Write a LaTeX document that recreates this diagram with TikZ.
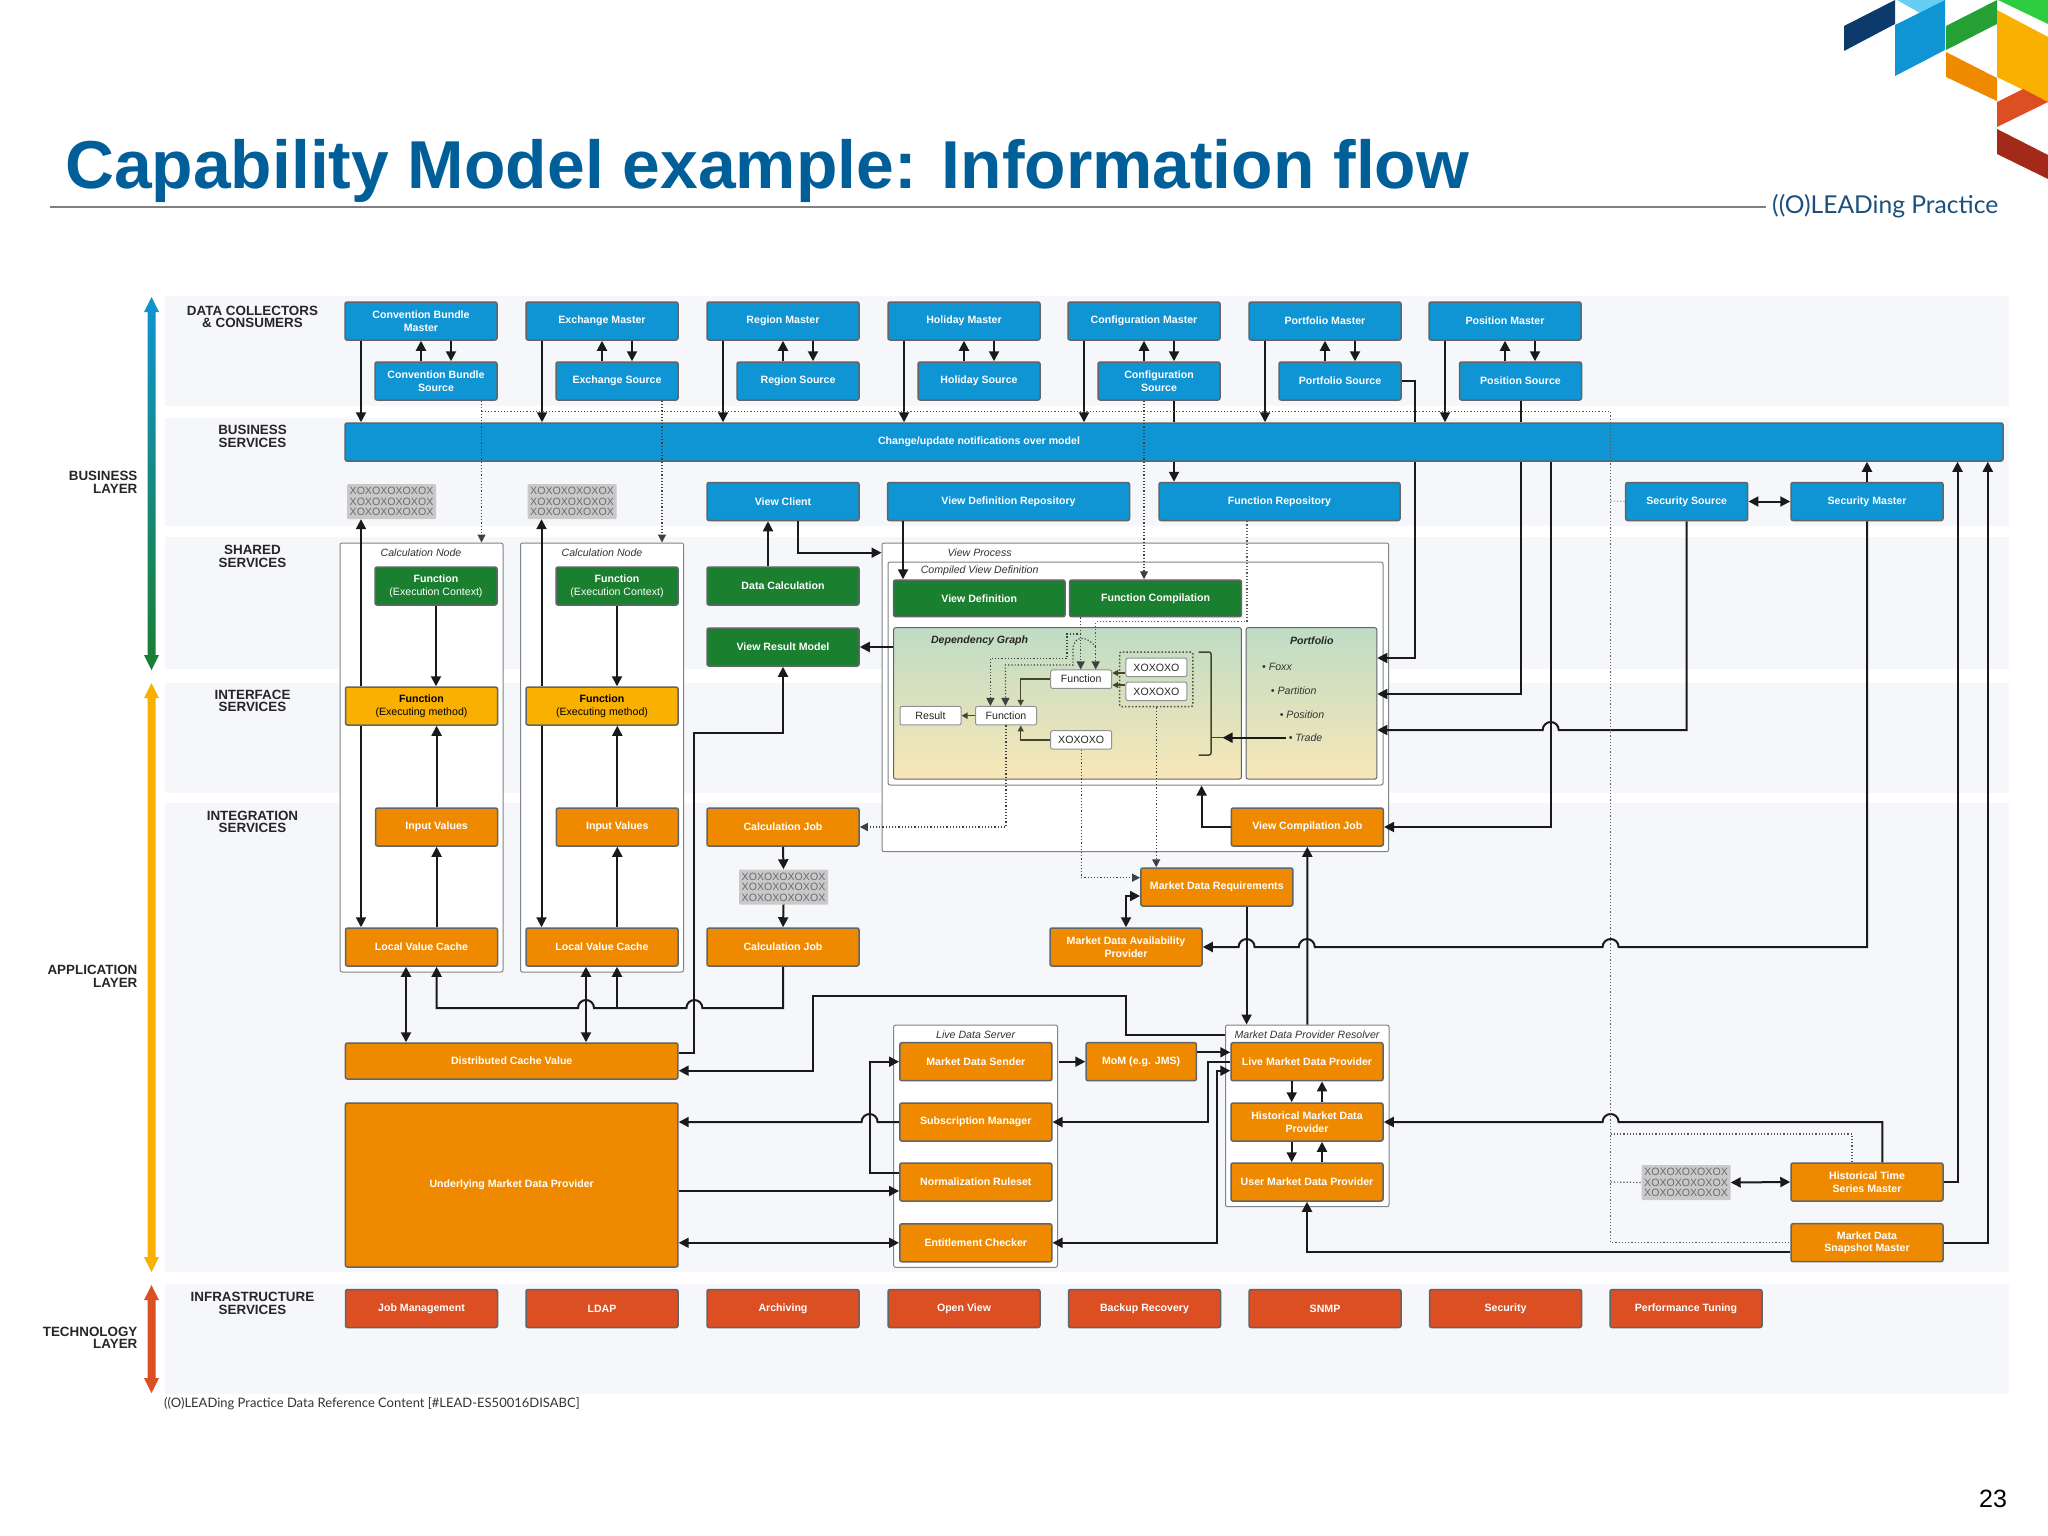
\documentclass[tikz,border=0pt]{standalone}
\usepackage{fontspec}
\setmainfont{Liberation Sans}
\newfontfamily\logofont{Lato}
\usetikzlibrary{arrows.meta}
\definecolor{titleblue}{HTML}{005F99}
\definecolor{logoblue}{HTML}{1C4F7C}
\definecolor{band}{HTML}{F6F7FA}
\definecolor{edge}{HTML}{5F6568}
\definecolor{cblue}{HTML}{0F94D4}
\definecolor{cgreen}{HTML}{1A7F2E}
\definecolor{cyellow}{HTML}{F9B000}
\definecolor{corange}{HTML}{EF8A00}
\definecolor{cred}{HTML}{DB4F23}
\definecolor{xogrey}{HTML}{C9C9C9}
\definecolor{xotext}{HTML}{6B6B6B}
\definecolor{flowblack}{HTML}{1A1A1A}
\definecolor{graphtop}{HTML}{BFDCC4}
\definecolor{graphbot}{HTML}{F8E7B8}
\begin{document}
\begin{tikzpicture}[x=1pt,y=1pt]
\tikzstyle{every node}+=[inner sep=0pt]
\tikzstyle{box}=[draw=edge,line width=1.5pt,rounded corners=2pt,minimum width=152pt,minimum height=38pt,align=center,text=white,font=\fontsize{10.6}{12.7}\selectfont\bfseries]
\tikzstyle{bluebox}=[box,fill=cblue]
\tikzstyle{greenbox}=[box,fill=cgreen]
\tikzstyle{yellowbox}=[box,fill=cyellow,text=black]
\tikzstyle{orangebox}=[box,fill=corange]
\tikzstyle{redbox}=[box,fill=cred]
\tikzstyle{shortbox}=[minimum width=122pt]
\tikzstyle{xobox}=[fill=xogrey,rounded corners=1pt,minimum width=89pt,minimum height=35pt,align=center,text=xotext,font=\fontsize{10.6}{10.6}\selectfont]
\tikzstyle{whitebox}=[draw=edge!70,fill=white,line width=1pt,rounded corners=2pt,minimum width=61pt,minimum height=18.5pt,font=\fontsize{10.6}{12}\selectfont,text=black!85]
\tikzstyle{holder}=[draw=edge!80,fill=white,line width=1pt,rounded corners=2pt]
\tikzstyle{panel}=[draw=edge,line width=1pt,rounded corners=2pt,top color=graphtop,bottom color=graphbot]
\tikzstyle{italiclabel}=[font=\fontsize{10.6}{12}\selectfont\itshape,text=black!80]
\tikzstyle{paneltitle}=[font=\fontsize{10.6}{12}\selectfont\bfseries\itshape,text=black!85]
\tikzstyle{sidelabel}=[align=center,font=\fontsize{13.4}{12.7}\selectfont\bfseries,text=black!85]
\tikzstyle{layerlabel}=[align=right,anchor=east,font=\fontsize{13.4}{12.7}\selectfont\bfseries,text=black!85]
\tikzstyle{flow}=[draw=flowblack,line width=2pt,-{Triangle[length=10pt,width=10pt]}]
\tikzstyle{both}=[draw=flowblack,line width=2pt,{Triangle[length=10pt,width=10pt]}-{Triangle[length=10pt,width=10pt]}]
\tikzstyle{plain}=[draw=flowblack,line width=2pt]
\tikzstyle{thinflow}=[draw=black!65!olive,line width=1.5pt,-{Triangle[length=6pt,width=6pt]}]
\tikzstyle{dots}=[draw=black!75,line width=1.2pt,dotted,-{Triangle[length=8pt,width=8pt]}]
\tikzstyle{dotline}=[draw=black!65,line width=1.2pt,dotted]
\useasboundingbox (0,0) rectangle (2048,-1536);
\fill [band] (165,-296) rectangle (2009,-406);
\fill [band] (165,-418) rectangle (2009,-526);
\fill [band] (165,-537) rectangle (2009,-669);
\fill [band] (165,-683) rectangle (2009,-793);
\fill [band] (165,-803) rectangle (2009,-1272);
\fill [band] (165,-1284) rectangle (2009,-1394);
\fill [color={rgb,255:red,11;green,58;blue,107}] (1844,-26) -- (1895,0) -- (1895,-24) -- (1844,-51);
\fill [color=cyan!60!white] (1897,0) -- (1945,0) -- (1920,-13);
\fill [cblue] (1895,-25) -- (1945,0) -- (1945,-50) -- (1895,-76);
\fill [color={rgb,255:red,37;green,160;blue,53}] (1946,-26) -- (1997,0) -- (1997,-24) -- (1946,-50);
\fill [color={rgb,255:red,46;green,204;blue,64}] (1998,0) -- (2048,0) -- (2048,-24);
\fill [cyellow] (1997,-10) -- (2048,-37) -- (2048,-102) -- (1997,-77);
\fill [corange] (1946,-52) -- (1997,-78) -- (1997,-101) -- (1946,-77);
\fill [cred] (1997,-102) -- (2023,-89) -- (2048,-102) -- (1997,-127);
\fill [color={rgb,255:red,163;green,42;blue,24}] (1997,-129) -- (2048,-155) -- (2048,-179) -- (1997,-154);
\node [anchor=base west,font=\fontsize{67.8}{70}\selectfont\bfseries,text=titleblue] (title) at (65,-188) {Capability Model example: Information flow};
\draw [draw=black!50,line width=2pt] (49.6,-206.7) -- (1766,-206.7);
\node [anchor=west,font=\fontsize{24.6}{28}\selectfont\logofont,text=logoblue] (logotext) at (1772,-206) {((O)LEADing Practice};
\node [anchor=west,font=\fontsize{13}{15}\selectfont\logofont,text=black!80] (footer) at (164,-1404) {((O)LEADing Practice Data Reference Content [\#LEAD-ES50016DISABC]};
\node [font=\fontsize{25}{28}\selectfont,text=black] (pagenum) at (1993,-1499) {23};
\shade [top color=cblue,bottom color=cgreen] (151.5,-297) -- (159,-312) -- (155.5,-312) -- (155.5,-655) -- (159,-655) -- (151.5,-670) -- (144,-655) -- (147.5,-655) -- (147.5,-312) -- (144,-312) -- cycle;
\fill [cyellow] (151.5,-683) -- (159,-698) -- (155.5,-698) -- (155.5,-1257) -- (159,-1257) -- (151.5,-1272) -- (144,-1257) -- (147.5,-1257) -- (147.5,-698) -- (144,-698) -- cycle;
\fill [cred] (151.5,-1285) -- (159,-1300) -- (155.5,-1300) -- (155.5,-1378) -- (159,-1378) -- (151.5,-1393) -- (144,-1378) -- (147.5,-1378) -- (147.5,-1300) -- (144,-1300) -- cycle;
\node [layerlabel] (laybus) at (137.6,-482) {BUSINESS\\LAYER};
\node [layerlabel] (layapp) at (137.6,-976.4) {APPLICATION\\LAYER};
\node [layerlabel] (laytec) at (137.6,-1337.7) {TECHNOLOGY\\LAYER};
\node [sidelabel] (sidedc) at (252.5,-317) {DATA COLLECTORS\\\& CONSUMERS};
\node [sidelabel] (sidebus) at (252.5,-436.4) {BUSINESS\\SERVICES};
\node [sidelabel] (sideshr) at (252.5,-556.7) {SHARED\\SERVICES};
\node [sidelabel] (sideint) at (252.5,-701) {INTERFACE\\SERVICES};
\node [sidelabel] (sideitg) at (252.5,-821.8) {INTEGRATION\\SERVICES};
\node [sidelabel] (sideinf) at (252.5,-1303.7) {INFRASTRUCTURE\\SERVICES};
\node [holder,minimum width=163pt,minimum height=429pt] (calcA) at (421.5,-757.5) {};
\node [holder,minimum width=163pt,minimum height=429pt] (calcB) at (602,-757.5) {};
\node [holder,minimum width=506.6pt,minimum height=308.7pt] (viewproc) at (1135.3,-697.35) {};
\node [holder,minimum width=495pt,minimum height=223pt] (compiled) at (1135.5,-673.5) {};
\node [holder,minimum width=163.8pt,minimum height=242.3pt] (liveserver) at (975.6,-1146.15) {};
\node [holder,minimum width=163.5pt,minimum height=181.7pt] (resolver) at (1307.25,-1115.85) {};
\node [italiclabel] (lblcalcA) at (421,-553) {Calculation Node};
\node [italiclabel] (lblcalcB) at (602,-553) {Calculation Node};
\node [italiclabel] (lblview) at (979.6,-553) {View Process};
\node [italiclabel] (lblcomp) at (979.6,-571) {Compiled View Definition};
\node [italiclabel] (lbllive) at (975.6,-1035) {Live Data Server};
\node [italiclabel] (lblres) at (1307,-1035) {Market Data Provider Resolver};
\node [bluebox] (cbm) at (421,-321) {Convention Bundle\\Master};
\node [bluebox,shortbox] (cbs) at (436,-381) {Convention Bundle\\Source};
\node [bluebox] (exm) at (602,-321) {Exchange Master};
\node [bluebox,shortbox] (exs) at (617,-381) {Exchange Source};
\node [bluebox] (rgm) at (783,-321) {Region Master};
\node [bluebox,shortbox] (rgs) at (798,-381) {Region Source};
\node [bluebox] (hom) at (964,-321) {Holiday Master};
\node [bluebox,shortbox] (hos) at (979,-381) {Holiday Source};
\node [bluebox] (cfm) at (1144,-321) {Configuration Master};
\node [bluebox,shortbox] (cfs) at (1159,-381) {Configuration\\Source};
\node [bluebox] (pfm) at (1325,-321) {Portfolio Master};
\node [bluebox,shortbox] (pfs) at (1340,-381) {Portfolio Source};
\node [bluebox] (psm) at (1505,-321) {Position Master};
\node [bluebox,shortbox] (pss) at (1520.5,-381) {Position Source};
\node [bluebox,minimum width=1658pt] (chg) at (1174,-442) {};
\node [xobox] (xo1) at (391.5,-501.5) {XOXOXOXOXOX\\XOXOXOXOXOX\\XOXOXOXOXOX};
\node [xobox] (xo2) at (572,-501.5) {XOXOXOXOXOX\\XOXOXOXOXOX\\XOXOXOXOXOX};
\node [bluebox] (vclient) at (783,-501.5) {View Client};
\node [bluebox,minimum width=242pt] (vdr) at (1008.5,-501.5) {View Definition Repository};
\node [bluebox,minimum width=241pt] (frepo) at (1279.5,-501.5) {Function Repository};
\node [bluebox,shortbox] (secs) at (1686.7,-501.5) {Security Source};
\node [bluebox] (secm) at (1867,-501.5) {Security Master};
\node [greenbox,shortbox] (fecA) at (436,-586) {Function\\{\mdseries (Execution Context)}};
\node [greenbox,shortbox] (fecB) at (617,-586) {Function\\{\mdseries (Execution Context)}};
\node [greenbox] (dcalc) at (783,-586) {Data Calculation};
\node [greenbox] (vrm) at (783,-647) {View Result Model};
\node [greenbox,minimum width=171.4pt,minimum height=36.7pt] (vdef) at (979.3,-598.35) {View Definition};
\node [greenbox,minimum width=171.8pt,minimum height=36.7pt] (fcomp) at (1155.5,-598.35) {Function Compilation};
\node [panel,minimum width=347.8pt,minimum height=151.3pt] (dep) at (1067.5,-703.35) {};
\node [panel,minimum width=130.8pt,minimum height=151.3pt] (port) at (1311.4,-703.35) {};
\node [paneltitle] (lbldep) at (979.6,-640.7) {Dependency Graph};
\node [paneltitle] (lblport) at (1311.8,-640.7) {Portfolio};
\node [italiclabel,anchor=west] (foxx) at (1262,-667.3) {\textbullet\ Foxx};
\node [italiclabel,anchor=west] (partition) at (1270.7,-691) {\textbullet\ Partition};
\node [italiclabel,anchor=west] (position) at (1279.6,-714.3) {\textbullet\ Position};
\node [italiclabel,anchor=west] (trade) at (1288.6,-737.7) {\textbullet\ Trade};
\node [draw=black!70,dotted,line width=1.5pt,rounded corners=2pt,minimum width=73.3pt,minimum height=54.7pt] (xogrp) at (1156.2,-679.35) {};
\node [whitebox] (fntop) at (1081.2,-679.2) {Function};
\node [whitebox] (fnbot) at (1006,-715.7) {Function};
\node [whitebox] (result) at (930.5,-715.7) {Result};
\node [whitebox] (xolow) at (1081.2,-739.9) {XOXOXO};
\node [whitebox] (xoup) at (1156.4,-667.4) {XOXOXO};
\node [whitebox] (xodn) at (1156.4,-691.4) {XOXOXO};
\node [orangebox] (vcj) at (1307.3,-827) {View Compilation Job};
\node [orangebox] (mdr) at (1216.8,-887) {Market Data Requirements};
\node [orangebox] (mdap) at (1126,-947) {Market Data Availability\\Provider};
\node [yellowbox] (fmA) at (421.5,-706) {Function\\{\mdseries (Executing method)}};
\node [yellowbox] (fmB) at (602,-706) {Function\\{\mdseries (Executing method)}};
\node [orangebox,shortbox] (ivA) at (436.6,-827) {Input Values};
\node [orangebox,shortbox] (ivB) at (617.3,-827) {Input Values};
\node [orangebox] (cj1) at (783,-827) {Calculation Job};
\node [xobox] (xo4) at (783.5,-887) {XOXOXOXOXOX\\XOXOXOXOXOX\\XOXOXOXOXOX};
\node [orangebox] (lvA) at (421.5,-947) {Local Value Cache};
\node [orangebox] (lvB) at (602,-947) {Local Value Cache};
\node [orangebox] (cj2) at (783,-947) {Calculation Job};
\node [orangebox,minimum width=332.5pt,minimum height=36pt] (dcv) at (511.7,-1061) {Distributed Cache Value};
\node [orangebox,minimum width=332.5pt,minimum height=164pt] (umdp) at (511.7,-1185) {Underlying Market Data Provider};
\node [orangebox] (mds) at (975.8,-1061.7) {Market Data Sender};
\node [orangebox] (subm) at (975.8,-1122) {Subscription Manager};
\node [orangebox] (norm) at (975.8,-1182) {Normalization Ruleset};
\node [orangebox] (ent) at (975.8,-1242.8) {Entitlement Checker};
\node [orangebox,minimum width=110.4pt] (mom) at (1141.2,-1061.7) {MoM (e.g. JMS)};
\node [orangebox] (livep) at (1307,-1061.7) {Live Market Data Provider};
\node [orangebox] (hmdp) at (1307,-1122) {Historical Market Data\\Provider};
\node [orangebox] (umdpu) at (1307,-1182) {User Market Data Provider};
\node [xobox] (xo3) at (1686,-1182.5) {XOXOXOXOXOX\\XOXOXOXOXOX\\XOXOXOXOXOX};
\node [orangebox] (htsm) at (1867,-1182) {Historical Time\\Series Master};
\node [orangebox] (mdsm) at (1867,-1242.7) {Market Data\\Snapshot Master};
\node [redbox] (tjob) at (421.5,-1308.5) {Job Management};
\node [redbox] (tldap) at (602,-1308.5) {LDAP};
\node [redbox] (tarch) at (783,-1308.5) {Archiving};
\node [redbox] (topen) at (964,-1308.5) {Open View};
\node [redbox] (tback) at (1144.5,-1308.5) {Backup Recovery};
\node [redbox] (tsnmp) at (1325,-1308.5) {SNMP};
\node [redbox] (tsec) at (1505.5,-1308.5) {Security};
\node [redbox] (tperf) at (1686,-1308.5) {Performance Tuning};
\coordinate (dnA) at (481.5,-411.7);
\coordinate (dnB) at (1610.6,-411.7);
\coordinate (dnC) at (1610.6,-1134);
\coordinate (dnD) at (1610.6,-1182);
\coordinate (dnE) at (1610.6,-501);
\coordinate (jnA) at (617,-1008);
\coordinate (tapA) at (1080.7,-634);
\coordinate (tapB) at (1095.7,-647);
\coordinate (brkt) at (1222.5,-737.7);
\draw [flow] (361,0 |- cbm.south) -- (361,0 |- chg.north);
\draw [flow] (421,0 |- cbs.north) -- (421,0 |- cbm.south);
\draw [flow] (451,0 |- cbm.south) -- (451,0 |- cbs.north);
\draw [flow] (542,0 |- exm.south) -- (542,0 |- chg.north);
\draw [flow] (602,0 |- exs.north) -- (602,0 |- exm.south);
\draw [flow] (632,0 |- exm.south) -- (632,0 |- exs.north);
\draw [flow] (723,0 |- rgm.south) -- (723,0 |- chg.north);
\draw [flow] (783,0 |- rgs.north) -- (783,0 |- rgm.south);
\draw [flow] (813,0 |- rgm.south) -- (813,0 |- rgs.north);
\draw [flow] (904,0 |- hom.south) -- (904,0 |- chg.north);
\draw [flow] (964,0 |- hos.north) -- (964,0 |- hom.south);
\draw [flow] (994,0 |- hom.south) -- (994,0 |- hos.north);
\draw [flow] (1084,0 |- cfm.south) -- (1084,0 |- chg.north);
\draw [flow] (1144,0 |- cfs.north) -- (1144,0 |- cfm.south);
\draw [flow] (1174,0 |- cfm.south) -- (1174,0 |- cfs.north);
\draw [flow] (1265,0 |- pfm.south) -- (1265,0 |- chg.north);
\draw [flow] (1325,0 |- pfs.north) -- (1325,0 |- pfm.south);
\draw [flow] (1355,0 |- pfm.south) -- (1355,0 |- pfs.north);
\draw [flow] (1445,0 |- psm.south) -- (1445,0 |- chg.north);
\draw [flow] (1505,0 |- pss.north) -- (1505,0 |- psm.south);
\draw [flow] (1535,0 |- psm.south) -- (1535,0 |- pss.north);
\draw [plain] (1174,0 |- cfs.south) -- (1174,0 |- chg.north);
\draw [flow] (chg.south) -- (1174,0 |- frepo.north);
\draw [flow] (secm.north) -- (secm.north |- chg.south);
\draw [both] (secs.east) -- (secm.west);
\draw [plain] (pss.south) -- (pss.south |- chg.north);
\draw [flow] (pss.south |- chg.south) -- (1520.5,-694) -- (port.east |- 0,-694);
\draw [plain] (pfs.east) -| (1415,0 |- chg.north);
\draw [flow] (1415,0 |- chg.south) -- (1415,-658) -- (port.east |- 0,-658);
\draw [flow] (1550.7,0 |- chg.south) -- (1550.7,-827) -- (vcj.east);
\draw [flow] (secs.south) -- (1686.7,-730) -- (1558.7,-730) arc (0:180:8) -- (port.east |- 0,-730);
\draw [flow] (secm.south) -- (1867,-947) -- (1618.6,-947) arc (0:180:8) -- (1314.8,-947) arc (0:180:8) -- (1254.6,-947) arc (0:180:8) -- (mdap.east);
\draw [flow] (htsm.east) -- (1957.5,0 |- htsm.east) -- (1957.5,0 |- chg.south);
\draw [flow] (mdsm.east) -- (1987.8,0 |- mdsm.east) -- (1987.8,0 |- chg.south);
\draw [flow] (1882.4,0 |- htsm.north) -- (1882.4,-1122) -- (1618.6,-1122) arc (0:180:8) -- (hmdp.east);
\draw [both] (xo3.east) -- (htsm.west);
\draw [flow] (mdsm.west |- 0,-1251.5) -- (1307,-1251.5) -- (umdpu.south);
\draw [flow] (361,0 |- fmA.north) -- (361,0 |- xo1.south);
\draw [flow] (541.5,0 |- fmB.north) -- (541.5,0 |- xo2.south);
\draw [flow] (fecA.south) -- (fecA.south |- fmA.north);
\draw [flow] (fecB.south) -- (fecB.south |- fmB.north);
\draw [flow] (361,0 |- fmA.south) -- (361,0 |- lvA.north);
\draw [flow] (541.5,0 |- fmB.south) -- (541.5,0 |- lvB.north);
\draw [flow] (ivA.north) -- (ivA.north |- fmA.south);
\draw [flow] (ivB.north) -- (ivB.north |- fmB.south);
\draw [flow] (ivA.south |- lvA.north) -- (ivA.south);
\draw [flow] (ivB.south |- lvB.north) -- (ivB.south);
\draw [both] (406,0 |- lvA.south) -- (406,0 |- dcv.north);
\draw [both] (586,0 |- lvB.south) -- (586,0 |- dcv.north);
\draw [flow] (cj2.south) -- (783,-1008) -- (702.4,-1008) arc (0:180:8) -- (594,-1008) arc (0:180:8) -- (ivA.south |- 0,-1008) -- (ivA.south |- lvA.south);
\draw [flow] (jnA) -- (jnA |- lvB.south);
\draw [flow] (dcv.east |- 0,-1053) -- (694.4,-1053) -- (694.4,-733) -- (783,-733) -- (vrm.south);
\draw [flow] (768,0 |- dcalc.north) -- (768,0 |- vclient.south);
\draw [flow] (798,0 |- vclient.south) -- (798,-552.7) -- (viewproc.west |- 0,-552.7);
\draw [flow] (903,0 |- vdr.south) -- (903,0 |- vdef.north);
\draw [flow] (dep.west |- vrm.east) -- (vrm.east);
\draw [flow] (cj1.south) -- (xo4.north);
\draw [flow] (xo4.south) -- (cj2.north);
\draw [flow] (vcj.west) -- (1201.6,-827) -- (1201.6,0 |- compiled.south);
\draw [flow] (resolver.north) -- (vcj.south);
\draw [both] (mdap.north) -- (1126,-896) -- (mdr.west |- 0,-896);
\draw [flow] (1246.6,0 |- mdr.south) -- (1246.6,0 |- resolver.north);
\draw [flow] (resolver.west |- 0,-1035) -- (1126,-1035) -- (1126,-996) -- (813.3,-996) -- (813.3,-1070.7) -- (dcv.east |- 0,-1070.7);
\draw [flow] ([xshift=6pt]mds.east) -- (mom.west);
\draw [flow] (mom.east |- 0,-1052.3) -- (livep.west |- 0,-1052.3);
\draw [flow] (livep.west) -- (1207.5,0 |- livep.west) -- (1207.5,-1122) -- (subm.east);
\draw [both] (ent.east) -- (1216.7,0 |- ent.east) -- (1216.7,-1070.7) -- (livep.west |- 0,-1070.7);
\draw [flow] (subm.west) -- (877.6,-1122) arc (0:180:8) -- (umdp.east |- subm.west);
\draw [flow] (norm.west |- 0,-1173.3) -- (869.6,-1173.3) -- (869.6,0 |- mds.west) -- (mds.west);
\draw [flow] (umdp.east |- 0,-1191) -- (norm.west |- 0,-1191);
\draw [both] (umdp.east |- ent.west) -- (ent.west);
\draw [flow] (1291.7,0 |- livep.south) -- (1291.7,0 |- hmdp.north);
\draw [flow] (1322,0 |- hmdp.north) -- (1322,0 |- livep.south);
\draw [flow] (1291.7,0 |- hmdp.south) -- (1291.7,0 |- umdpu.north);
\draw [flow] (1322,0 |- umdpu.north) -- (1322,0 |- hmdp.south);
\draw [thinflow] (fntop.west) -- (1020.7,0 |- fntop.west) -- (1020.7,0 |- fnbot.north);
\draw [thinflow] (xoup.west |- 0,-673) -- (fntop.east |- 0,-673);
\draw [thinflow] (xodn.west |- 0,-685) -- (fntop.east |- 0,-685);
\draw [thinflow] (fnbot.west) -- (result.east);
\draw [thinflow] (xolow.west) -- (1020.7,0 |- xolow.west) -- (1020.7,0 |- fnbot.south);
\draw [plain,line width=1.5pt,draw=black!65!olive,rounded corners=2pt] (1198.6,-652) -- (1211,-652) -- (1211,-755) -- (1198.6,-755);
\draw [plain,line width=1.5pt,draw=black!65!olive] (1211,-737.7) -- (brkt);
\draw [flow] ([xshift=-3pt]trade.west) -- (brkt);
\draw [dots] (481.5,0 |- cbs.south) -- (481.5,0 |- calcA.north);
\draw [dots] (662,0 |- exs.south) -- (662,0 |- calcB.north);
\draw [dotline] (dnA) -- (dnB) -- (dnB |- mdsm.west) -- (mdsm.west);
\draw [dotline] (dnC) -- (1852,-1134) -- (1852,0 |- htsm.north);
\draw [dotline] (dnD) -- (xo3.west);
\draw [dotline,draw=black!35] (dnE) -- (secs.west);
\draw [dots] (1144,0 |- cfs.south) -- (1144,0 |- fcomp.north);
\draw [dotline] (1247,0 |- frepo.south) -- (1247,-621.7) -- (1095.7,-621.7) -- (1095.7,-647);
\draw [dots] (tapB) -- (tapB |- fntop.north);
\draw [dots] (tapA |- fcomp.south) -- (tapA |- fntop.north);
\draw [dots] (tapA) -- (1067,-634) -- (1067,-658.3) -- (990.4,-658.3) -- (990.4,0 |- fnbot.north);
\draw [dots] (tapB) .. controls (1088,-636) and (1073,-634) .. (1073,-650) -- (1073,-665) -- (1005.4,-665) -- (1005.4,0 |- fnbot.north);
\draw [dots] (fnbot.south) -- (fnbot.south |- cj1.east) -- (cj1.east);
\draw [dots] (xolow.south) -- (1081.2,-877.7) -- (mdr.west |- 0,-877.7);
\draw [dots] (xogrp.south) -- (xogrp.south |- mdr.north);
\node [box,draw=none,minimum width=0pt,minimum height=0pt] (chgtext) at (979,-442) {Change/update notifications over model};
\end{tikzpicture}
\end{document}
